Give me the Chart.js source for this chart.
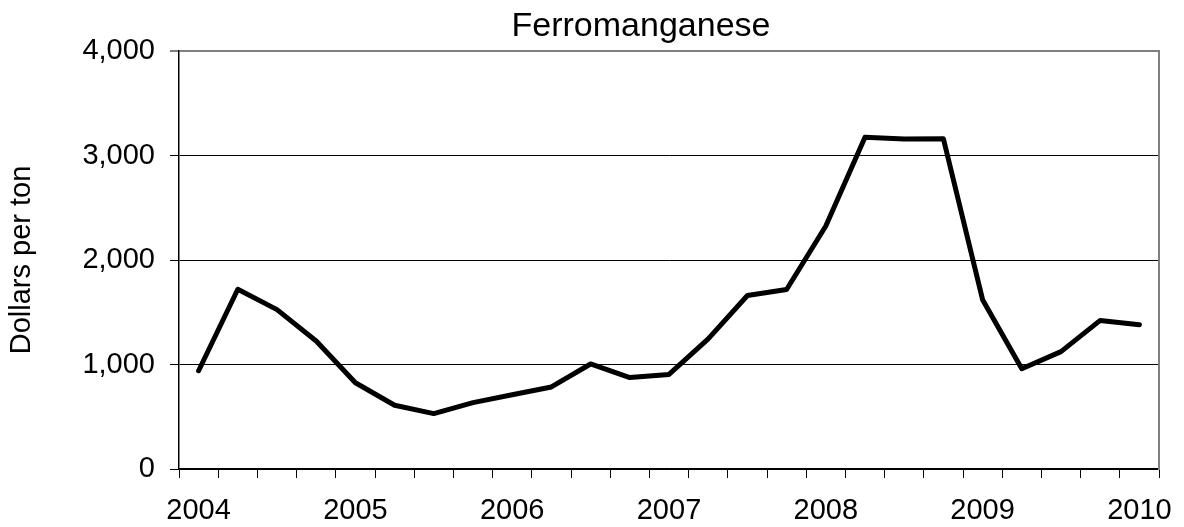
<!DOCTYPE html>
<html>
<head>
<meta charset="utf-8">
<script src="https://cdn.jsdelivr.net/npm/chart.js@4.4.1/dist/chart.umd.min.js"></script>
<style>
  html, body { margin: 0; padding: 0; background: #fff; }
  #wrap { width: 1184px; height: 527px; }
</style>
</head>
<body>
<div id="wrap"><canvas id="lineChart"></canvas></div>
<script>
// quarterly ferromanganese prices
var quarters = [
  "2004 Q1", "2004 Q2", "2004 Q3", "2004 Q4",
  "2005 Q1", "2005 Q2", "2005 Q3", "2005 Q4",
  "2006 Q1", "2006 Q2", "2006 Q3", "2006 Q4",
  "2007 Q1", "2007 Q2", "2007 Q3", "2007 Q4",
  "2008 Q1", "2008 Q2", "2008 Q3", "2008 Q4",
  "2009 Q1", "2009 Q2", "2009 Q3", "2009 Q4",
  "2010 Q1"
];
var prices = [
  940, 1720, 1525, 1225,
  825, 610, 530, 635,
  710, 785, 1005, 875,
  905, 1245, 1660, 1718,
  2325, 3175, 3158, 3160,
  1620, 960, 1123, 1422,
  1380
];
var yTicks = [0, 1000, 2000, 3000, 4000];
var chartTitle = "Ferromanganese";
var axisTitle = "Dollars per ton";

var fontFamily = '"Liberation Sans", Arial, sans-serif';

// title sits a bit left of the plot centre, so draw it by hand
var titlePlugin = {
  id: "leftTitle",
  afterDraw: function (chart) {
    var ctx = chart.ctx;
    ctx.save();
    ctx.font = "34px " + fontFamily;
    ctx.fillStyle = "#000";
    ctx.textAlign = "center";
    ctx.textBaseline = "alphabetic";
    ctx.fillText(chartTitle, 641, 36);
    ctx.restore();
  },
};

var lineChart = document.getElementById("lineChart").getContext("2d");

var myLineChart = new Chart(lineChart, {
  type: "line",
  data: {
    labels: quarters,
    datasets: [
      {
        data: prices,
        borderColor: "#000",
        borderWidth: 5,
        pointRadius: 0,
        tension: 0,
        fill: false,
        borderCapStyle: "round",
        borderJoinStyle: "round",
      },
    ],
  },
  options: {
    responsive: true,
    maintainAspectRatio: false,
    animation: false,
    layout: {
      padding: { left: 0, right: 25, top: 51, bottom: 0 },
    },
    plugins: {
      legend: { display: false },
      tooltip: { enabled: false },
      title: { display: false },
    },
    scales: {
      x: {
        type: "category",
        offset: true,
        grid: {
          offset: true,
          drawOnChartArea: false,
          tickLength: 9,
          color: "#000",
        },
        border: { color: "#000", width: 1.5 },
        ticks: {
          autoSkip: false,
          maxRotation: 0,
          minRotation: 0,
          padding: 16,
          color: "#000",
          font: { family: fontFamily, size: 29 },
          callback: function (val, i) {
            var q = quarters[i];
            return q.slice(-2) === "Q1" ? q.slice(0, 4) : "";
          },
        },
        afterFit: function (scale) {
          scale.height = 58;
          scale.paddingLeft = 0;
          scale.paddingRight = 0;
        },
      },
      y: {
        min: yTicks[0],
        max: yTicks[yTicks.length - 1],
        afterBuildTicks: function (scale) {
          scale.ticks = yTicks.map(function (v) { return { value: v }; });
        },
        ticks: {
          padding: 15,
          color: "#000",
          font: { family: fontFamily, size: 29 },
          callback: function (v) {
            return v.toLocaleString("en-US");
          },
        },
        grid: {
          tickLength: 9,
          color: function (c) {
            return c.tick && c.tick.value === 4000 ? "#808080" : "#000";
          },
          lineWidth: function (c) {
            return c.tick && c.tick.value === 4000 ? 2 : 1;
          },
        },
        border: { color: "#000", width: 1.5 },
        title: {
          display: true,
          text: axisTitle,
          color: "#000",
          font: { family: fontFamily, size: 29 },
          padding: { top: 5, bottom: 0 },
        },
        afterFit: function (scale) {
          scale.width = 179;
        },
      },
      // right-hand frame of the plot
      y2: {
        position: "right",
        min: 0,
        max: 4000,
        grid: { display: false },
        ticks: { display: false },
        border: { color: "#808080", width: 2 },
        afterFit: function (scale) {
          scale.width = 0;
        },
      },
    },
  },
  plugins: [titlePlugin],
});
</script>
</body>
</html>
